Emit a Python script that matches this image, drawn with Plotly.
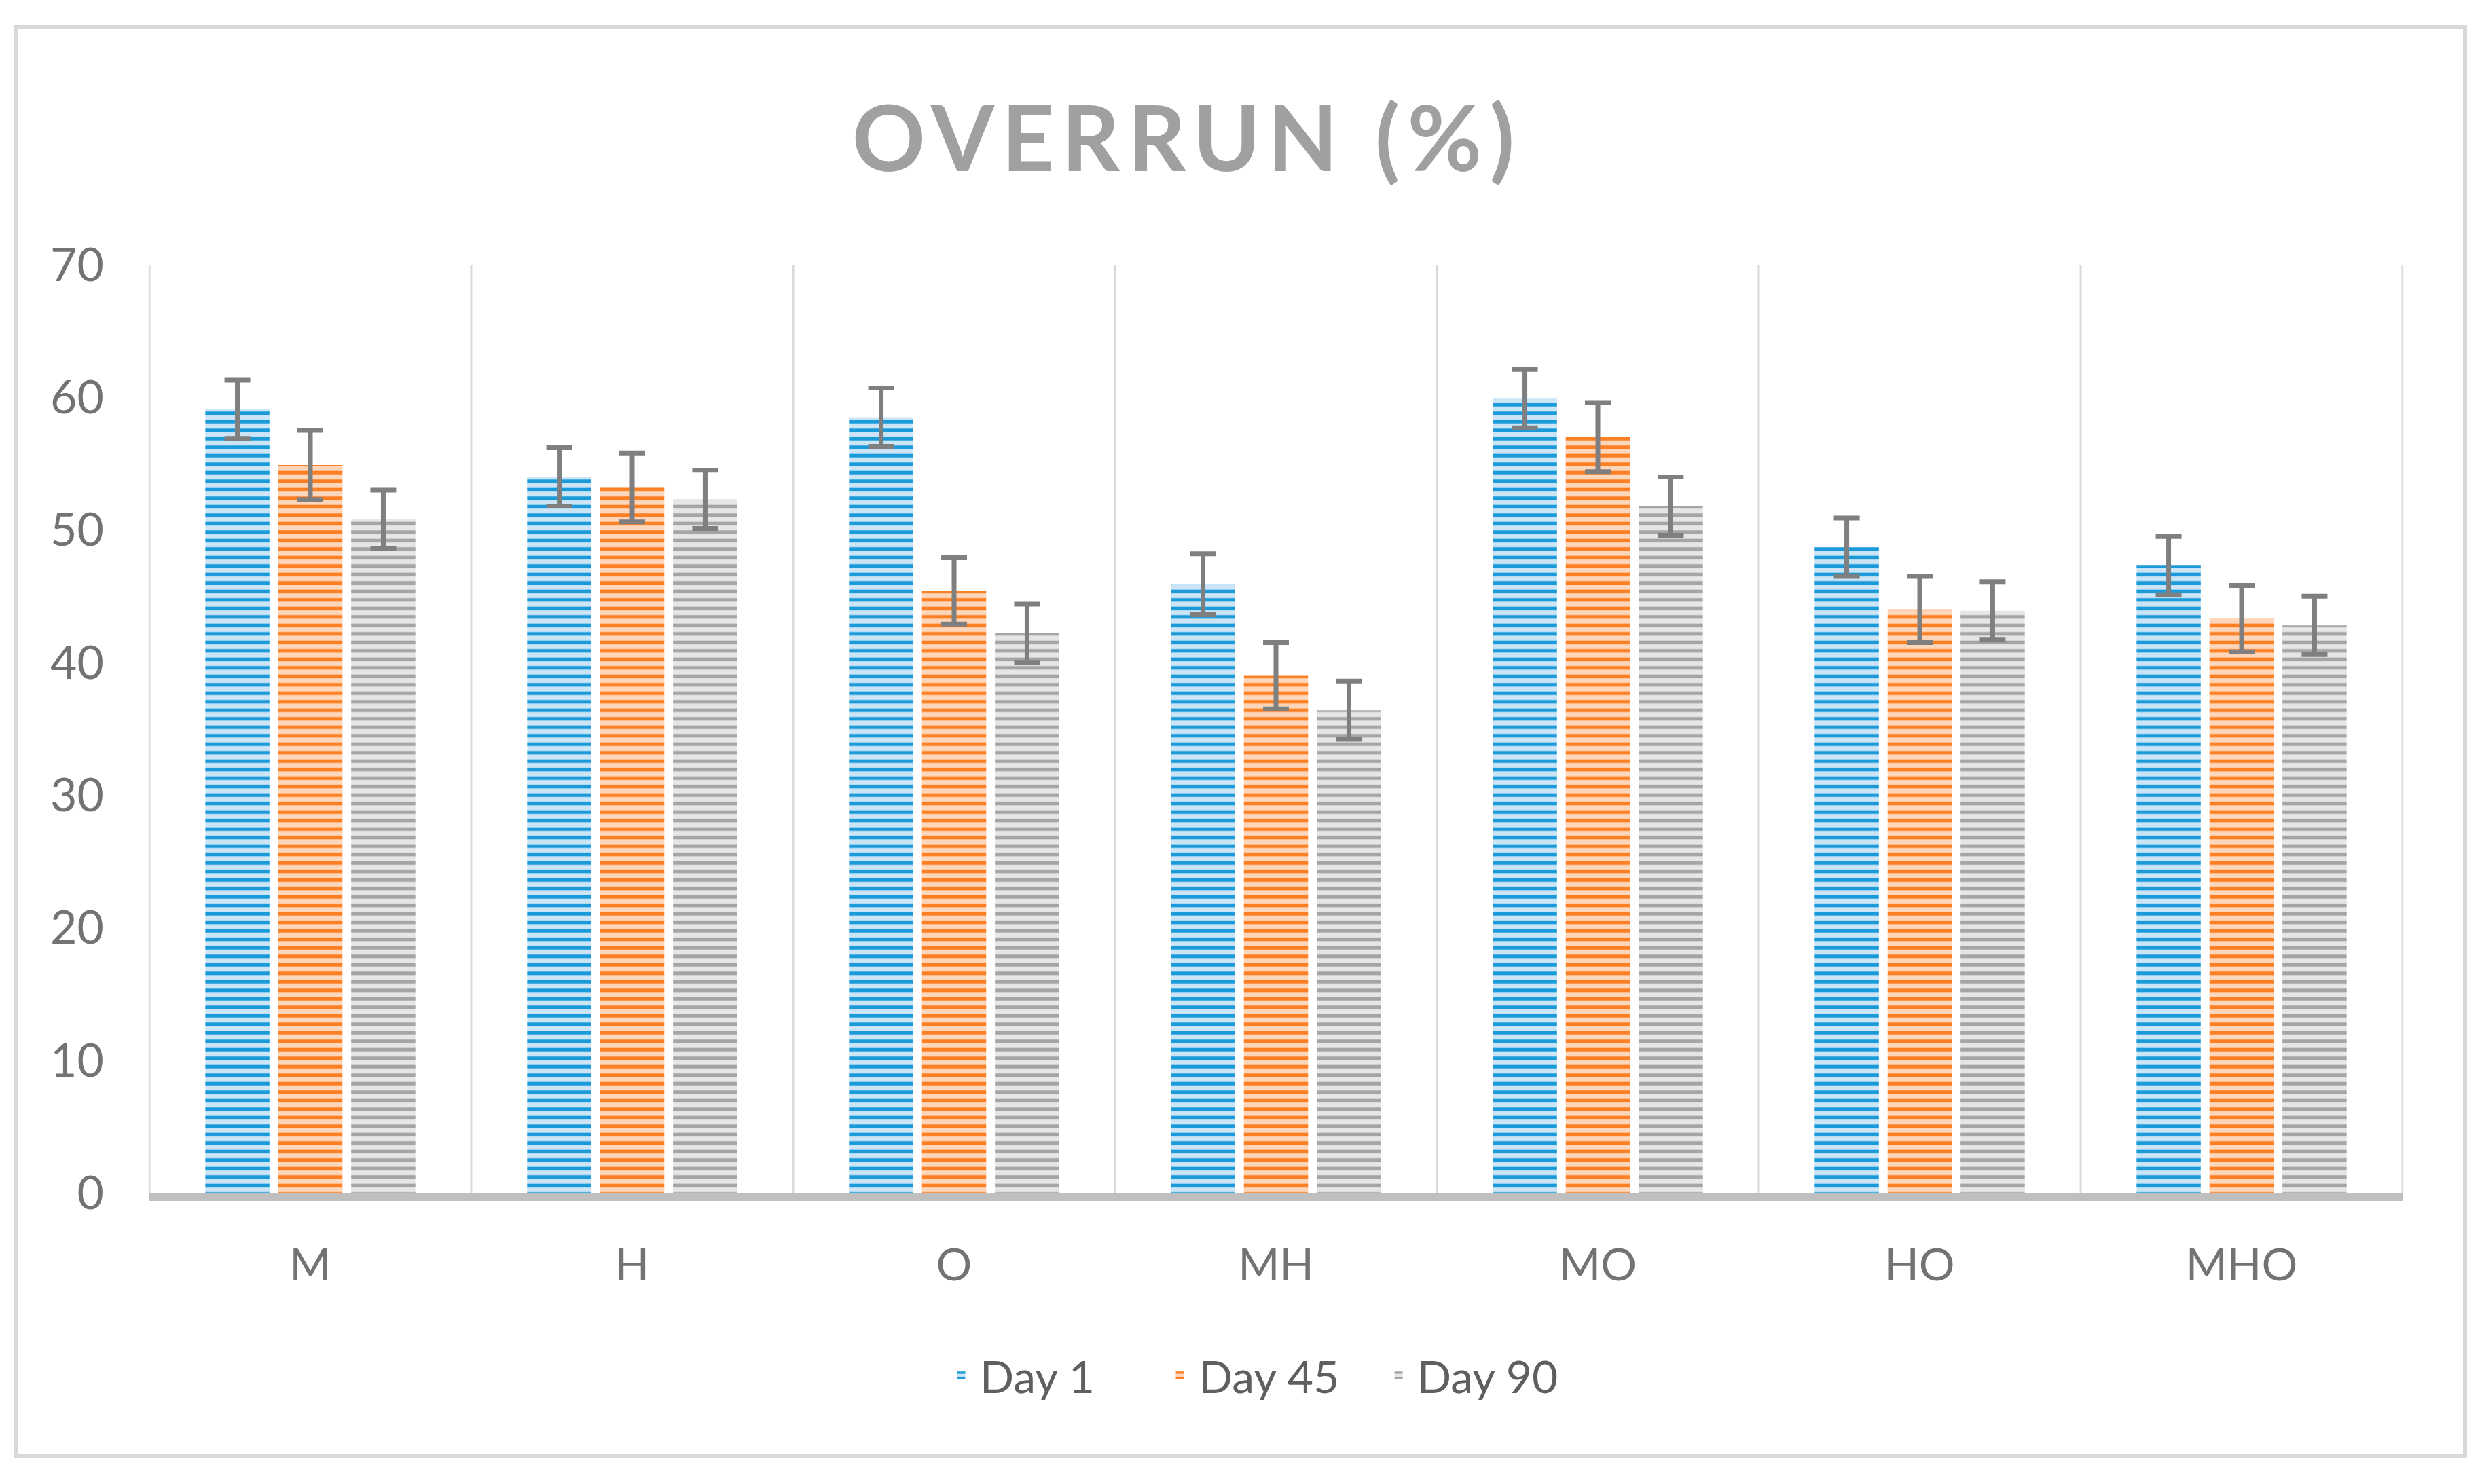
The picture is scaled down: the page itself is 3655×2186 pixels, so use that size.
import plotly.graph_objects as go

categories = ["M", "H", "O", "MH", "MO", "HO", "MHO"]
series_names = ["Day 1", "Day 45", "Day 90"]
day1 = [59.1, 54.0, 58.5, 45.9, 59.9, 48.7, 47.3]
day45 = [54.9, 53.2, 45.4, 39.0, 57.0, 44.0, 43.3]
day90 = [50.8, 52.3, 42.2, 36.4, 51.8, 43.9, 42.8]
err1 = [2.2, 2.2, 2.2, 2.3, 2.2, 2.2, 2.2]
err45 = [2.6, 2.6, 2.5, 2.5, 2.6, 2.5, 2.5]
err90 = [2.2, 2.2, 2.2, 2.2, 2.2, 2.2, 2.2]
y_ticks = [0, 10, 20, 30, 40, 50, 60, 70]

W, H = 3655, 2186
L, R, T, B = 220, 117, 390, 429
PW, PH = W - L - R, H - T - B

def px_x(p):
    return (p - L) / PW

def px_y(p):
    return (H - B - p) / PH

dark = ["#1a9ad8", "#fd7f23", "#a5a5a5"]
light = ["#cbe5f6", "#ffd6ba", "#e6e6e6"]

fig = go.Figure()
for i, (name, vals, errs) in enumerate(zip(series_names, [day1, day45, day90], [err1, err45, err90])):
    fig.add_trace(go.Bar(
        name=name, x=categories, y=vals,
        marker=dict(
            color=light[i],
            line=dict(width=0),
            pattern=dict(shape="-", fgcolor=dark[i], bgcolor=light[i],
                         size=12.5, solidity=0.42, fillmode="replace"),
        ),
        error_y=dict(type="data", array=errs, visible=True,
                     color="#7f7f7f", thickness=7, width=19),
    ))

shapes = []
for i in range(len(categories) + 1):
    shapes.append(dict(type="line", xref="x", yref="y", x0=i - 0.5, x1=i - 0.5,
                       y0=0, y1=y_ticks[-1], line=dict(color="#d9d9d9", width=3),
                       layer="below"))
shapes.append(dict(type="rect", xref="paper", yref="paper",
                   x0=px_x(23), x1=px_x(3630), y0=px_y(2145), y1=px_y(40),
                   line=dict(color="#d9d9d9", width=6), fillcolor="rgba(0,0,0,0)",
                   layer="below"))

fig.update_layout(
    width=W, height=H,
    margin=dict(l=L, r=R, t=T, b=B),
    paper_bgcolor="white", plot_bgcolor="white",
    font=dict(family="Lato", color="#737373"),
    title=dict(text='<b><span style="letter-spacing:11px">OVERRUN (%)</span></b>',
               x=1748 / W, y=1 - 205 / H,
               xanchor="center", yanchor="middle", xref="container", yref="container",
               font=dict(family="Lato", size=134, color="#a0a0a0")),
    barmode="group", bargap=0.32, bargroupgap=0.12,
    showlegend=True,
    legend=dict(orientation="h", x=px_x(1388), y=px_y(2026), xanchor="left",
                yanchor="middle", font=dict(size=66, color="#5f5f5f"),
                itemwidth=45, entrywidth=262, entrywidthmode="pixels",
                bgcolor="rgba(0,0,0,0)"),
    shapes=shapes,
)
fig.update_xaxes(type="category", range=[-0.5, len(categories) - 0.5],
                 showgrid=False, showline=True, linecolor="#bfbfbf", linewidth=12,
                 ticks="", tickfont=dict(size=66, color="#737373"),
                 ticklabelstandoff=38, zeroline=False)
fig.update_yaxes(range=[0, 70], tickvals=y_ticks, showgrid=False, zeroline=False,
                 showline=False, ticks="", tickfont=dict(size=68, color="#737373"),
                 ticklabelstandoff=66)

fig.write_html("out.html", post_script="document.body.style.margin='0';",
               config={"displayModeBar": False})
